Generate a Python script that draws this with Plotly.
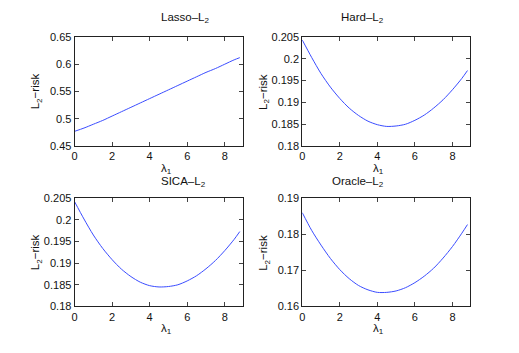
import plotly.graph_objects as go

lam = [0, 0.5, 1, 1.5, 2, 2.5, 3, 3.5, 4, 4.5, 5, 5.5, 6, 6.5, 7, 7.5, 8, 8.5, 8.8]
lasso = [0.477, 0.483, 0.490, 0.497, 0.505, 0.513, 0.521, 0.529, 0.537, 0.545, 0.553, 0.561, 0.569, 0.577, 0.585, 0.592, 0.600, 0.608, 0.612]
hard = [0.2043, 0.2003, 0.1966, 0.1935, 0.1909, 0.1887, 0.1870, 0.1857, 0.1849, 0.1845, 0.1846, 0.1850, 0.1859, 0.1871, 0.1887, 0.1906, 0.1929, 0.1955, 0.1973]
sica = [0.2042, 0.2002, 0.1965, 0.1934, 0.1908, 0.1886, 0.1869, 0.1856, 0.1848, 0.1845, 0.1846, 0.1850, 0.1859, 0.1871, 0.1887, 0.1906, 0.1929, 0.1955, 0.1973]
oracle = [0.1860, 0.1811, 0.1770, 0.1733, 0.1702, 0.1677, 0.1658, 0.1646, 0.1639, 0.1639, 0.1643, 0.1652, 0.1666, 0.1684, 0.1706, 0.1734, 0.1766, 0.1803, 0.1827]

titles = ["Lasso–L<sub>2</sub>", "Hard–L<sub>2</sub>", "SICA–L<sub>2</sub>", "Oracle–L<sub>2</sub>"]
series = [lasso, hard, sica, oracle]
yranges = [[0.45, 0.65], [0.18, 0.205], [0.18, 0.205], [0.16, 0.19]]
ydtick = [0.05, 0.005, 0.005, 0.01]
xticks = [0, 2, 4, 6, 8]

W, H = 519, 353
# pixel boxes (x0, x1, ytop, ybottom)
boxes = [(72, 241, 32, 145), (301, 470, 32, 145), (72, 241, 199, 311), (301, 470, 199, 311)]

fig = go.Figure()
font = dict(family="Liberation Sans, Arial, sans-serif", size=11, color="#111")
tfont = dict(family="Liberation Sans, Arial, sans-serif", size=11.5, color="#111")
annotations = []
for i, (ys, box) in enumerate(zip(series, boxes)):
    n = i + 1
    xa = "x" if n == 1 else f"x{n}"
    ya = "y" if n == 1 else f"y{n}"
    fig.add_trace(go.Scatter(x=lam, y=ys, mode="lines",
                             line=dict(color="#3a4cff", width=1, shape="spline", smoothing=0.8),
                             xaxis=xa, yaxis=ya, showlegend=False, hoverinfo="skip"))
    x0, x1, yt, yb = box
    axx = dict(domain=[x0 / W, x1 / W], range=[0, 8.95], tickvals=xticks, ticks="inside", ticklen=4,
               mirror="ticks", showline=True, linecolor="#222", linewidth=1, showgrid=False,
               zeroline=False, tickfont=font, anchor=ya)
    axy = dict(domain=[1 - yb / H, 1 - yt / H], range=yranges[i], dtick=ydtick[i], tick0=yranges[i][0],
               ticks="inside", ticklen=4, mirror="ticks", showline=True, linecolor="#222", linewidth=1,
               showgrid=False, zeroline=False, tickfont=font, anchor=xa)
    fig.update_layout(**{("xaxis" if n == 1 else f"xaxis{n}"): axx, ("yaxis" if n == 1 else f"yaxis{n}"): axy})
    cx = (x0 + x1) / 2 / W
    tgap = 10 if i < 2 else 7
    annotations.append(dict(text=titles[i], x=cx, y=1 - (yt - tgap) / H, xref="paper", yref="paper",
                            showarrow=False, yanchor="bottom", font=tfont))
    annotations.append(dict(text="λ<sub>1</sub>", x=cx, y=1 - (yb + 14) / H, xref="paper", yref="paper",
                            showarrow=False, yanchor="top", font=tfont))
    annotations.append(dict(text="L<sub>2</sub>−risk", x=(x0 - 38) / W, y=1 - (yt + yb) / 2 / H,
                            xref="paper", yref="paper", showarrow=False, textangle=-90,
                            xanchor="center", yanchor="middle", font=tfont))

fig.update_layout(width=W, height=H, margin=dict(l=0, r=0, t=0, b=0), paper_bgcolor="white",
                  plot_bgcolor="white", annotations=annotations)
fig.write_html("out.html", config={"displayModeBar": False},
               post_script="document.body.style.margin='0px';")
